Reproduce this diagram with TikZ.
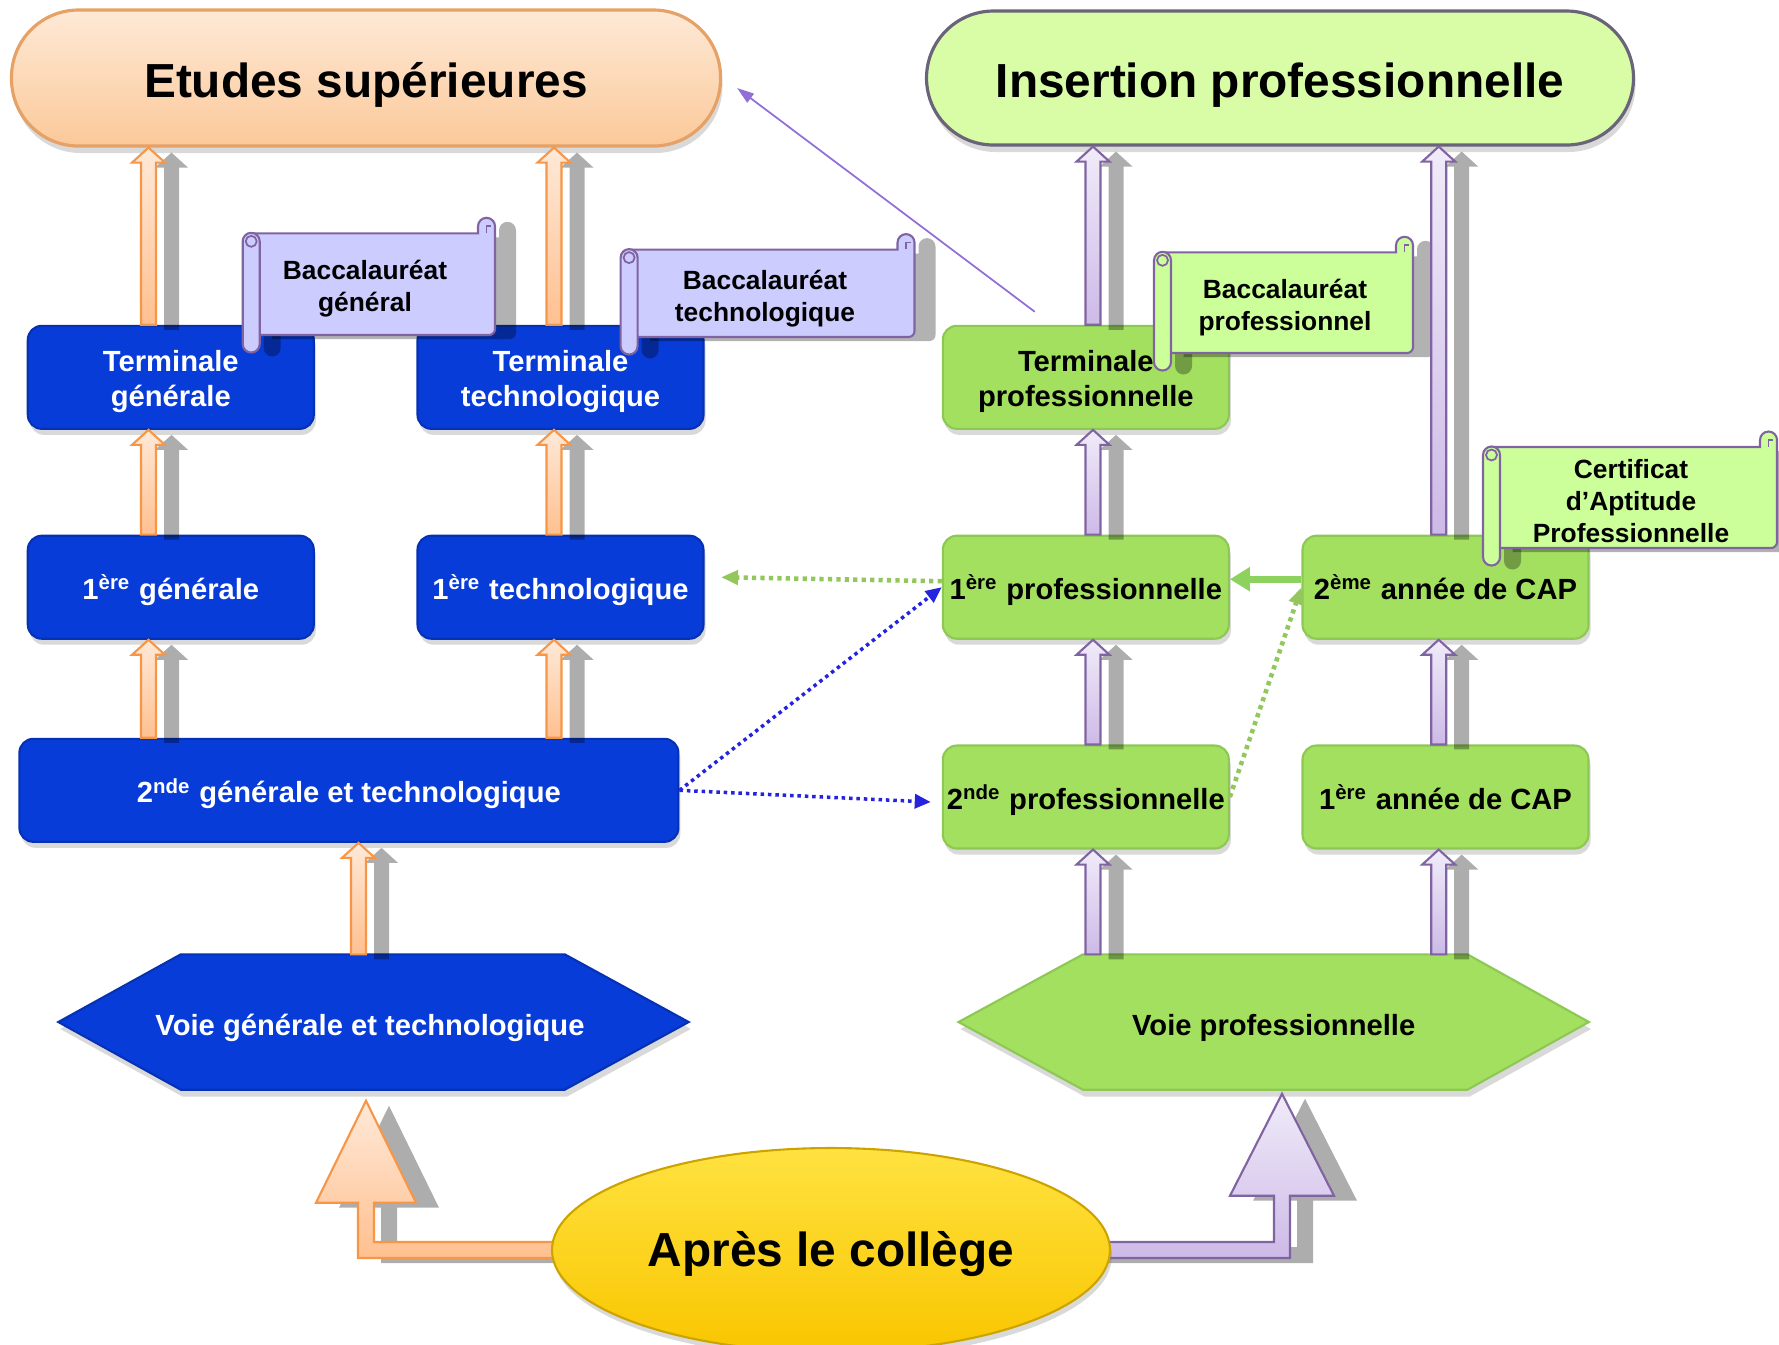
\documentclass[tikz,border=0pt]{standalone}
\usepackage{fontspec}
\setmainfont{Liberation Sans}
\usetikzlibrary{calc,shadows,shapes.geometric,arrows.meta}

\definecolor{bluebox}{HTML}{073CD8}
\definecolor{blueline}{HTML}{0531B4}
\definecolor{greenbox}{HTML}{A3E060}
\definecolor{greenline}{HTML}{8CC853}
\definecolor{peachtop}{HTML}{FEE9D6}
\definecolor{peachbot}{HTML}{FBC99A}
\definecolor{peachline}{HTML}{E5A166}
\definecolor{limefill}{HTML}{D9FCA7}
\definecolor{limeline}{HTML}{6A6478}
\definecolor{yellowtop}{HTML}{FFE240}
\definecolor{yellowbot}{HTML}{F9C600}
\definecolor{yellowline}{HTML}{CDA300}
\definecolor{lavender}{HTML}{CCCCFF}
\definecolor{scrollgreen}{HTML}{CCFF99}
\definecolor{purpleline}{HTML}{8064A2}
\definecolor{orangeline}{HTML}{F79646}
\definecolor{orangetop}{HTML}{FFE9D8}
\definecolor{orangebot}{HTML}{FFC090}
\definecolor{mauvetop}{HTML}{F0EBF9}
\definecolor{mauvebot}{HTML}{CDBAE7}
\definecolor{dotblue}{HTML}{2424E0}
\definecolor{dotgreen}{HTML}{93C75B}
\definecolor{arrowgreen}{HTML}{8DD15E}
\definecolor{linkviolet}{HTML}{9070D8}

%% hollow up arrow: style, bottom point, top point
\newcommand{\montee}[3]{%
  \draw[#1] let \p1=(#2), \p2=(#3) in
    (\x1-0.075cm,\y1) -- (\x1-0.075cm,\y2-0.15cm) -- (\x1-0.165cm,\y2-0.15cm)
    -- (\x1,\y2) -- (\x1+0.165cm,\y2-0.15cm) -- (\x1+0.075cm,\y2-0.15cm)
    -- (\x1+0.075cm,\y1) -- cycle;}

%% scroll: xL, yT, xR, yB
\newcommand{\corpsparchemin}[4]{({#1+0.085},{#4}) -- ({#1+0.085},{#2}) -- ({#3-0.17},{#2})
  -- ({#3-0.17},{#2+0.07}) arc[start angle=180,end angle=0,radius=0.085]
  -- ({#3},{#4+0.06}) arc[start angle=0,end angle=-90,radius=0.06] -- cycle}
\newcommand{\rouleau}[4]{({#1},{#2+0.005}) rectangle ({#1+0.17},{#4-0.175})}
\newcommand{\parchemin}[5]{%
  \begin{scope}[shift={(0.21,-0.04)}]
    \fill[black,opacity=0.3] \corpsparchemin{#1}{#2}{#3}{#4};
    \fill[black,opacity=0.3,rounded corners=0.085cm] \rouleau{#1}{#2}{#3}{#4};
  \end{scope}
  \filldraw[fill=#5,draw=purpleline,line width=0.6pt] \corpsparchemin{#1}{#2}{#3}{#4};
  \filldraw[fill=#5,draw=purpleline,line width=0.6pt,rounded corners=0.085cm] \rouleau{#1}{#2}{#3}{#4};
  \draw[purpleline,line width=0.5pt] ({#1+0.085},{#2-0.08}) circle (0.055);
  \draw[purpleline,line width=0.5pt] ({#3-0.085},{#2+0.005}) -- ({#3-0.085},{#2+0.07}) -- ({#3-0.04},{#2+0.07});}

\begin{document}
\begin{tikzpicture}[
    gtbox/.style={rectangle, rounded corners=0.14cm, minimum width=2.86cm, minimum height=1.03cm,
      inner sep=1pt, align=center, fill=bluebox, draw=blueline, line width=0.6pt, text=white,
      font=\fontsize{8.3}{10}\selectfont\bfseries, text height=0.92em, text depth=0.2em,
      drop shadow={shadow xshift=0.02cm, shadow yshift=-0.06cm, opacity=0.3}},
    probox/.style={gtbox, fill=greenbox, draw=greenline, text=black},
    twoline/.style={text height=18.6pt},
    pill/.style={rectangle, rounded corners=0.67cm, minimum height=1.36cm, line width=0.9pt,
      font=\fontsize{13.6}{16}\selectfont\bfseries, text height=1.32em, text depth=0.2em,
      drop shadow={shadow xshift=0.02cm, shadow yshift=-0.07cm, opacity=0.3}},
    hexbase/.style={rectangle, minimum width=6.29cm, minimum height=1.34cm, inner sep=0pt},
    hexlabel/.style={font=\fontsize{8.3}{10}\selectfont\bfseries},
    parchtext/.style={align=center, font=\fontsize{7.5}{9.2}\selectfont\bfseries},
    orangearr/.style={top color=orangetop, bottom color=orangebot, draw=orangeline, line width=0.6pt,
      preaction={fill=black, opacity=0.32, transform canvas={shift={(0.23,-0.05)}}}},
    mauvearr/.style={orangearr, top color=mauvetop, bottom color=mauvebot, draw=purpleline},
    dotb/.style={dotblue, line width=1pt, dash pattern=on 1pt off 1.1pt, -{Triangle[length=0.16cm,width=0.14cm]}},
    dotg/.style={dotgreen, line width=1.3pt, dash pattern=on 1.2pt off 1.2pt, -{Triangle[length=0.17cm,width=0.14cm]}},
    flechev/.style={arrowgreen, line width=2pt, -{Triangle[length=0.2cm,width=0.23cm]}},
    lienviolet/.style={linkviolet, line width=0.5pt, -{Triangle[length=0.17cm,width=0.11cm]}}
  ]
  \useasboundingbox (0,0) rectangle (17.79,-13.44);

  %% two goals
  \node[pill, minimum width=7.09cm, top color=peachtop, bottom color=peachbot, draw=peachline]
    (etudes) at (3.66,-0.78) {Etudes supérieures};
  \node[pill, minimum width=7.07cm, minimum height=1.34cm, fill=limefill, draw=limeline]
    (insertion) at (12.80,-0.78) {Insertion professionnelle};

  %% general and technological track
  \node[gtbox, twoline] (tg) at (1.708,-3.773) {Terminale\\générale};
  \node[gtbox, twoline] (tt) at (5.605,-3.773) {Terminale\\technologique};
  \node[gtbox] (pg) at (1.708,-5.872) {1\textsuperscript{ère} générale};
  \node[gtbox] (pt) at (5.605,-5.872) {1\textsuperscript{ère} technologique};
  \node[gtbox, minimum width=6.59cm] (sgt) at (3.489,-7.903) {2\textsuperscript{nde} générale et technologique};

  %% vocational track
  \node[probox, twoline] (tp) at (10.858,-3.773) {Terminale\\professionnelle};
  \node[probox] (pp) at (10.858,-5.872) {1\textsuperscript{ère} professionnelle};
  \node[probox] (sp) at (10.858,-7.97) {2\textsuperscript{nde} professionnelle};
  \node[probox] (cap2) at (14.455,-5.872) {2\textsuperscript{ème} année de CAP};
  \node[probox] (cap1) at (14.455,-7.97) {1\textsuperscript{ère} année de CAP};

  %% hexagons
  \path (3.735,-10.22) node[hexbase] (vgt) {};
  \draw[fill=bluebox, draw=blueline, line width=0.6pt,
        drop shadow={shadow xshift=0.02cm, shadow yshift=-0.07cm, opacity=0.3}]
    (vgt.west) -- ($(vgt.north west)+(1.225,0)$) -- ($(vgt.north east)+(-1.24,0)$) -- (vgt.east)
    -- ($(vgt.south east)+(-1.24,0)$) -- ($(vgt.south west)+(1.225,0)$) -- cycle;
  \node[hexlabel, text=white] (vgtlabel) at (3.70,-10.275) {Voie générale et technologique};
  \path (12.737,-10.22) node[hexbase] (vp) {};
  \draw[fill=greenbox, draw=greenline, line width=0.6pt,
        drop shadow={shadow xshift=0.02cm, shadow yshift=-0.07cm, opacity=0.3}]
    (vp.west) -- ($(vp.north west)+(1.245,0)$) -- ($(vp.north east)+(-1.215,0)$) -- (vp.east)
    -- ($(vp.south east)+(-1.215,0)$) -- ($(vp.south west)+(1.245,0)$) -- cycle;
  \node[hexlabel] (vplabel) at (12.737,-10.275) {Voie professionnelle};

  %% diplomas
  \parchemin{2.427}{-2.333}{4.95}{-3.35}{lavender}
  \node[parchtext] (bacg) at (3.65,-2.885) {Baccalauréat\\général};
  \parchemin{6.206}{-2.496}{9.145}{-3.37}{lavender}
  \node[parchtext] (bact) at (7.65,-2.985) {Baccalauréat\\technologique};
  \parchemin{11.54}{-2.523}{14.13}{-3.53}{scrollgreen}
  \node[parchtext] (bacp) at (12.85,-3.075) {Baccalauréat\\professionnel};
  \parchemin{14.83}{-4.47}{17.77}{-5.48}{scrollgreen}
  \node[parchtext] (capdip) at (16.31,-5.01) {Certificat\\d’Aptitude\\Professionnelle};

  %% columns of arrows
  \coordinate (colg) at (1.485,0);
  \coordinate (colt) at (5.54,0);
  \coordinate (colv) at (3.585,0);
  \coordinate (colp) at (10.93,0);
  \coordinate (colc) at (14.387,0);

  \montee{orangearr}{tg.north -| colg}{etudes.south -| colg}
  \montee{orangearr}{tt.north -| colt}{etudes.south -| colt}
  \montee{orangearr}{pg.north -| colg}{tg.south -| colg}
  \montee{orangearr}{pt.north -| colt}{tt.south -| colt}
  \montee{orangearr}{sgt.north -| colg}{pg.south -| colg}
  \montee{orangearr}{sgt.north -| colt}{pt.south -| colt}
  \montee{orangearr}{vgt.north -| colv}{sgt.south -| colv}

  \montee{mauvearr}{tp.north -| colp}{insertion.south -| colp}
  \montee{mauvearr}{pp.north -| colp}{tp.south -| colp}
  \montee{mauvearr}{sp.north -| colp}{pp.south -| colp}
  \montee{mauvearr}{vp.north -| colp}{sp.south -| colp}
  \montee{mauvearr}{cap2.north -| colc}{insertion.south -| colc}
  \montee{mauvearr}{cap1.north -| colc}{cap2.south -| colc}
  \montee{mauvearr}{vp.north -| colc}{cap1.south -| colc}

  %% links between tracks
  \draw[lienviolet] ($(tp.north west)+(0.93,0.13)$) -- ($(etudes.east)+(0.15,-0.1)$);
  \draw[dotg] ($(pp.west)+(0,0.06)$) -- ($(pt.east)+(0.165,0.1)$);
  \draw[dotb] (sgt.east) -- (pp.west);
  \draw[dotb] (sgt.east) -- ($(sp.west)+(-0.11,-0.05)$);
  \draw[dotg] (sp.east) -- (cap2.west);
  \draw[flechev] ($(cap2.west)+(0,0.08)$) -- ($(pp.east)+(0,0.08)$);

  %% after college
  \coordinate (collegec) at (8.31,-12.50);
  \coordinate (pointeg) at ($(vgt.south)+(-0.075,-0.11)$);
  \coordinate (pointed) at ($(vp.south)+(0.083,-0.04)$);
  \draw[orangearr] let \p1=(pointeg), \p2=(collegec) in
    (\x2,\y2+0.08cm) -- (\x1+0.08cm,\y2+0.08cm) -- (\x1+0.08cm,\y1-1.02cm) -- (\x1+0.5cm,\y1-1.02cm)
    -- (\x1,\y1) -- (\x1-0.5cm,\y1-1.02cm) -- (\x1-0.08cm,\y1-1.02cm) -- (\x1-0.08cm,\y2-0.08cm)
    -- (\x2,\y2-0.08cm) -- cycle;
  \draw[mauvearr] let \p1=(pointed), \p2=(collegec) in
    (\x2,\y2+0.08cm) -- (\x1-0.08cm,\y2+0.08cm) -- (\x1-0.08cm,\y1-1.02cm) -- (\x1-0.52cm,\y1-1.02cm)
    -- (\x1,\y1) -- (\x1+0.52cm,\y1-1.02cm) -- (\x1+0.08cm,\y1-1.02cm) -- (\x1+0.08cm,\y2-0.08cm)
    -- (\x2,\y2-0.08cm) -- cycle;
  \node[ellipse, minimum width=5.58cm, minimum height=2.04cm, top color=yellowtop, bottom color=yellowbot,
        draw=yellowline, line width=0.6pt, font=\fontsize{13.6}{16}\selectfont\bfseries,
        text height=1.15em, text depth=0.2em,
        drop shadow={shadow xshift=0.02cm, shadow yshift=-0.06cm, opacity=0.3}]
    (college) at (collegec) {Après le collège};
\end{tikzpicture}
\end{document}
